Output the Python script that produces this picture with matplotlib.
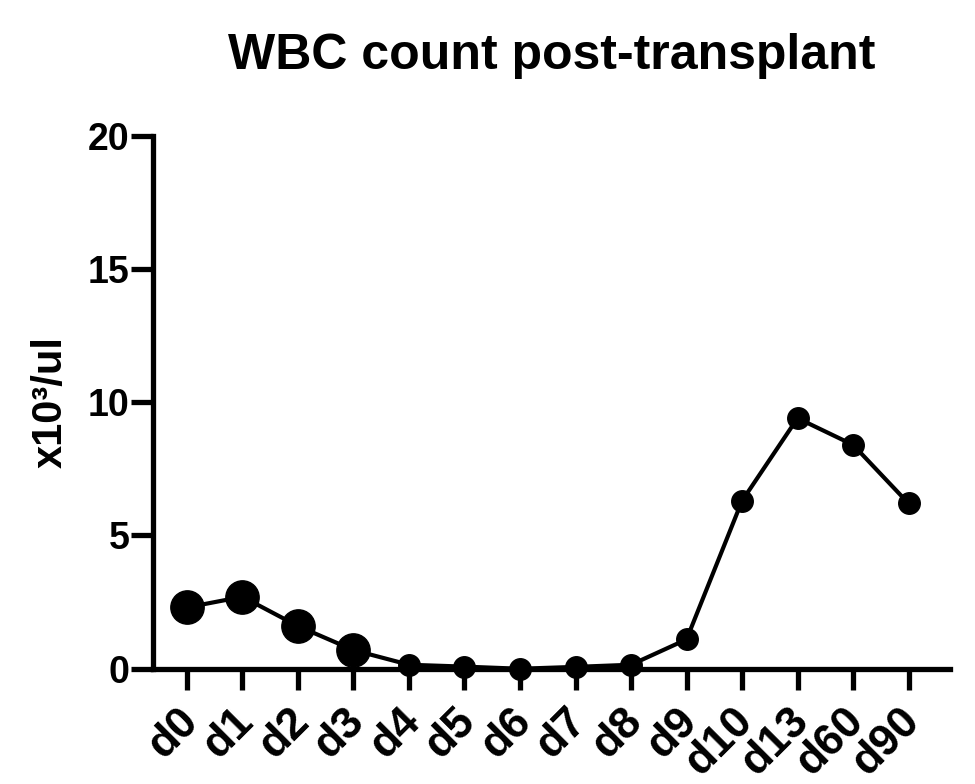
import matplotlib
matplotlib.use("Agg")
import matplotlib.pyplot as plt
from matplotlib.transforms import ScaledTranslation
import numpy as np

days = ["d0", "d1", "d2", "d3", "d4", "d5", "d6", "d7", "d8", "d9", "d10", "d13", "d60", "d90"]
wbc = [2.3, 2.7, 1.6, 0.7, 0.15, 0.08, 0.0, 0.07, 0.15, 1.1, 6.3, 9.4, 8.4, 6.2]
yticks = [0, 5, 10, 15, 20]

plt.rcParams['font.family'] = ['Liberation Sans', 'DejaVu Sans']
plt.rcParams['font.weight'] = 'bold'

fig = plt.figure(figsize=(9.75, 7.84), dpi=100)
ax = fig.add_axes([0.157, 0.147, 0.817, 0.680])

x = np.arange(len(days))
ax.plot(x, wbc, color='black', lw=3.0, zorder=3, clip_on=False)
n_big = 4
ax.plot(x[:n_big], wbc[:n_big], 'o', color='black', ms=24, zorder=4, clip_on=False)
ax.plot(x[n_big:], wbc[n_big:], 'o', color='black', ms=15.5, zorder=4, clip_on=False)

ax.set_xlim(-0.61, 13.74)
ax.set_ylim(0, 20)

for s in ['top', 'right']:
    ax.spines[s].set_visible(False)
for s in ['left', 'bottom']:
    ax.spines[s].set_linewidth(3.8)
ax.tick_params(axis='y', length=16, width=3.8, pad=1)
ax.tick_params(axis='x', length=15, width=3.8, pad=2)

ax.set_yticks(yticks)
ax.set_yticklabels([str(t) for t in yticks], fontsize=27, fontweight='bold')
ax.set_xticks(x)
ax.set_xticklabels(days, fontsize=32, fontweight='bold', rotation=45,
                   ha='right', va='top', rotation_mode='anchor')
off = ScaledTranslation(-0.10, -0.08, fig.dpi_scale_trans)
for lab in ax.get_xticklabels():
    lab.set_transform(lab.get_transform() + off)

ax.set_ylabel('x10³/ul', fontsize=30, fontweight='bold', labelpad=12)
ax.set_title('WBC count post-transplant', fontsize=36, fontweight='bold', pad=48)

fig.savefig('out.png', dpi=100)
